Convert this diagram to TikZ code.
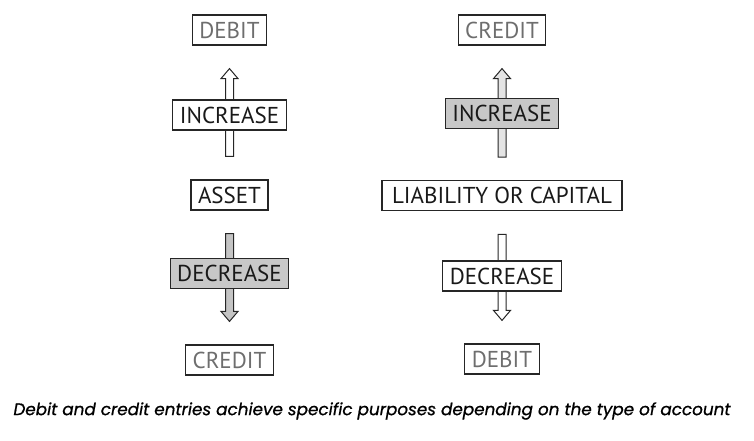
\documentclass[tikz,border=0pt]{standalone}
\usepackage{fontspec}
\setsansfont{PT Sans}
\newfontfamily\captionfont[ItalicFeatures={FakeBold=0.8}]{Poppins}
\usepackage{xcolor}
\usetikzlibrary{calc,backgrounds}

\definecolor{boxgray}{HTML}{C8C8C8}
\definecolor{darkarrow}{HTML}{C4C4C4}
\definecolor{lightarrow}{HTML}{E4E4E4}
\definecolor{sidetext}{HTML}{6E6E6E}

\tikzset{
	entrybox/.style={draw=black!85, line width=1.2pt, fill=white, minimum height=30pt, inner xsep=7pt, inner ysep=0pt, font=\sffamily\fontsize{23}{23}\selectfont, text=black!90},
	sidebox/.style={entrybox, text=sidetext},
	shadebox/.style={entrybox, fill=boxgray},
	arrowline/.style={draw=black!85, line width=1pt, fill=white},
}

% hollow block arrow, straight up or down, from tail #2 to tip #3
\newcommand{\blockarrow}[3][]{%
	\draw[arrowline,#1] let \p1=(#2), \p2=(#3), \p3=($(#3)!\headlen!(#2)$) in
	(\x1-\shaft,\y1) -- (\x1-\shaft,\y3) -- (\x1-\headw,\y3) -- (\x1,\y2)
	-- (\x1+\headw,\y3) -- (\x1+\shaft,\y3) -- (\x1+\shaft,\y1) -- cycle;}

\begin{document}
\begin{tikzpicture}[x=1pt,y=-1pt]
		% Parameters
		\def\xl{229.5}
		\def\xr{502}
		\def\gap{23pt}
		\def\shaft{4pt}
		\def\headw{8.5pt}
		\def\headlen{10pt}
		
		\useasboundingbox (0,0) rectangle (754,440);
		
		%left column
		\node[sidebox] (debitl) at (\xl,30) {DEBIT};
		\node[entrybox] (incl) at (\xl,115) {INCREASE};
		\node[entrybox] (asset) at (\xl,195) {ASSET};
		\node[shadebox] (decl) at (\xl,273.5) {DECREASE};
		\node[sidebox] (creditl) at (\xl,360) {CREDIT};
		
		%right column
		\node[sidebox] (creditr) at (\xr,30) {CREDIT};
		\node[shadebox] (incr) at (\xr,113.5) {INCREASE};
		\node[entrybox, inner xsep=10pt] (liab) at (\xr,195.8) {LIABILITY OR CAPITAL};
		\node[entrybox] (decr) at (\xr,276) {DECREASE};
		\node[sidebox] (debitr) at (\xr,359) {DEBIT};
		
		%arrows
		\begin{scope}[on background layer]
			\coordinate (t1) at ([yshift=\gap]asset.north);
			\coordinate (h1) at ([yshift=-\gap]debitl.south);
			\coordinate (t2) at ([yshift=-\gap]asset.south);
			\coordinate (h2) at ([yshift=\gap]creditl.north);
			\coordinate (t3) at ([yshift=\gap]liab.north);
			\coordinate (h3) at ([yshift=-\gap]creditr.south);
			\coordinate (t4) at ([yshift=-\gap]liab.south);
			\coordinate (h4) at ([yshift=\gap]debitr.north);
			\blockarrow{t1}{h1}
			\blockarrow[fill=darkarrow]{t2}{h2}
			\blockarrow[fill=lightarrow]{t3}{h3}
			\blockarrow{t4}{h4}
		\end{scope}
		
		%caption
		\node[font=\captionfont\itshape\fontsize{16.8}{16.8}\selectfont] (caption) at (372,411) {Debit and credit entries achieve specific purposes depending on the type of account};
		
\end{tikzpicture}
\end{document}
